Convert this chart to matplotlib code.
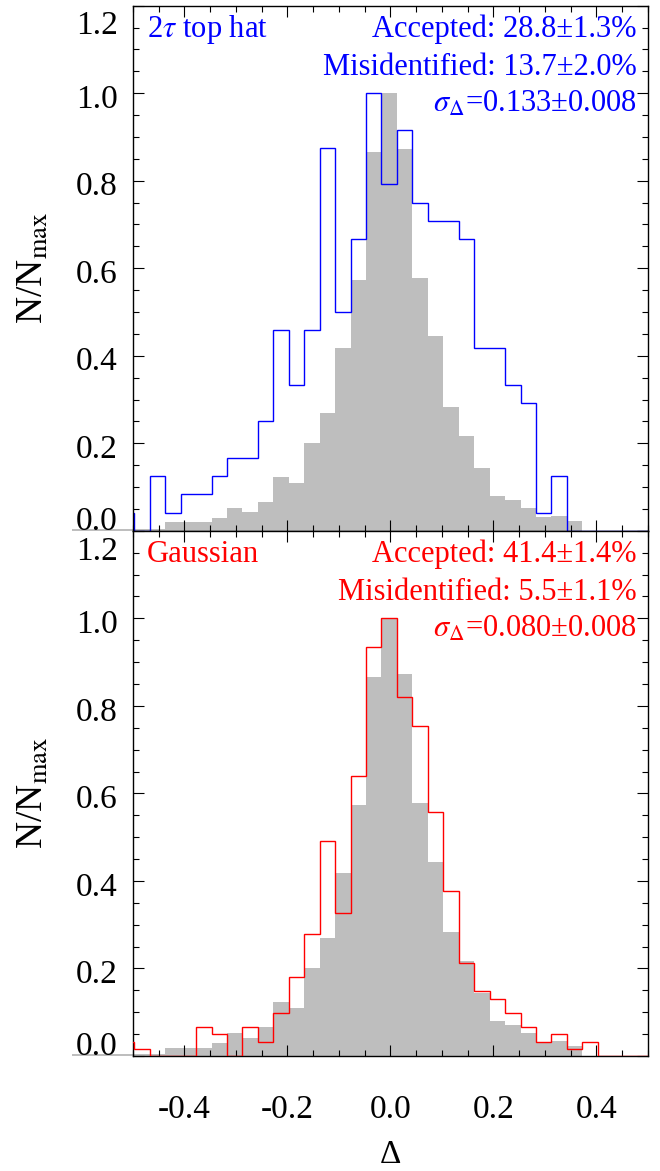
#!/usr/bin/env python3
"""Normalised Delta histograms: 2-tau top hat vs Gaussian weighting, over the reference sample."""

import numpy as np
import matplotlib
matplotlib.use("Agg")
import matplotlib.pyplot as plt
from matplotlib.ticker import MultipleLocator, FormatStrFormatter
from matplotlib.transforms import ScaledTranslation


# binning of Delta (all histograms share the 0.03 step)
BIN_WIDTH = 0.03
FIRST_EDGE = -0.5275
GREY_FIRST_EDGE = -0.6175

# reference sample (grey), already N/N_max
grey_frac = [0.004, 0.004, 0.004,
             0.005, 0.005, 0.005, 0.019, 0.019, 0.019, 0.029, 0.053, 0.042,
             0.066, 0.124, 0.110, 0.200, 0.270, 0.418, 0.574, 0.866, 1.000,
             0.872, 0.578, 0.444, 0.284, 0.217, 0.144, 0.080, 0.070, 0.053,
             0.031, 0.034, 0.022, 0.0, 0.0, 0.0, 0.0, 0.0]

# counts per bin
tophat_counts = [1, 0, 3, 1, 2, 2, 3, 4, 4, 6, 11, 8, 11, 21, 12, 16, 24, 19,
                 22, 18, 17, 17, 16, 10, 10, 8, 7, 1, 3, 0, 0, 0, 0, 0, 0]
gauss_counts = [2, 1, 0, 0, 0, 4, 3, 0, 4, 2, 6, 11, 17, 30, 20, 39, 57, 61,
                50, 46, 34, 23, 13, 9, 8, 6, 4, 2, 3, 1, 2, 0, 0, 0, 0]

panel_names = [r"2$\tau$ top hat", "Gaussian"]
panel_colors = ["blue", "red"]
accepted = ["28.8±1.3%", "41.4±1.4%"]
misidentified = ["13.7±2.0%", "5.5±1.1%"]
sigma_delta = ["0.133±0.008", "0.080±0.008"]

x_ticks = [-0.4, -0.2, 0.0, 0.2, 0.4]
y_ticks = [0.0, 0.2, 0.4, 0.6, 0.8, 1.0, 1.2]
# IDL-like nudging of the y labels (pixels, + is down)
y_label_shift = {0.0: -13, 1.2: 17}


def edges_for(values, start):
    return np.round(start + BIN_WIDTH * np.arange(len(values) + 1), 4)


def main() -> None:
    plt.rcParams.update(
        {
            "font.family": ["Liberation Serif", "DejaVu Serif"],
            "mathtext.fontset": "stix",
            "axes.unicode_minus": False,
            "axes.linewidth": 1.0,
        }
    )

    fig = plt.figure(figsize=(6.6, 11.71), dpi=100)
    left, width, height = 0.2015, 0.7803, 0.4485
    low = 0.0982
    # top panel first, so the lower panel's frame sits over the shared edge
    axes = [
        fig.add_axes([left, low + height, width, height]),
        fig.add_axes([left, low, width, height]),
    ]

    grey_edges = edges_for(grey_frac, GREY_FIRST_EDGE)

    for i, (ax, counts) in enumerate(zip(axes, [tophat_counts, gauss_counts])):
        color = panel_colors[i]
        frac = np.asarray(counts, dtype=float) / max(counts)

        ax.stairs(grey_frac, grey_edges, fill=True, color="#bebebe",
                  linewidth=0, clip_on=False, zorder=1)
        # blue run along the baseline is hidden under the frame, red is not
        ax.stairs(frac, edges_for(counts, FIRST_EDGE), color=color,
                  linewidth=1.0, baseline=0, zorder=3 if i else 2)

        ax.set_xlim(-0.5, 0.5)
        ax.set_ylim(0, 1.2)
        ax.set_xticks(x_ticks)
        ax.set_yticks(y_ticks)
        ax.xaxis.set_minor_locator(MultipleLocator(0.05))
        ax.yaxis.set_minor_locator(MultipleLocator(0.05))
        ax.yaxis.set_major_formatter(FormatStrFormatter("%.1f"))
        ax.xaxis.set_major_formatter(FormatStrFormatter("%.1f"))
        ax.tick_params(which="both", direction="in", top=True, right=True,
                       width=0.8, labelsize=24)
        ax.tick_params(which="major", length=8)
        ax.tick_params(which="minor", length=4.3)
        ax.tick_params(axis="y", pad=11)

        for val, lbl in zip(y_ticks, ax.get_yticklabels()):
            dy = y_label_shift.get(val, 3)
            lbl.set_transform(lbl.get_transform()
                              + ScaledTranslation(0, -dy / 100, fig.dpi_scale_trans))

        ax.set_ylabel(r"N/N$_{\rm max}$", fontsize=27)
        ax.yaxis.set_label_coords(-0.16, 0.5)

        ax.text(0.027, 0.941, panel_names[i], color=color, fontsize=22,
                transform=ax.transAxes, ha="left", va="baseline")
        lines = [
            f"Accepted: {accepted[i]}",
            f"Misidentified: {misidentified[i]}",
            r"$\sigma_\Delta$=" + sigma_delta[i],
        ]
        for text, y in zip(lines, [0.941, 0.868, 0.798]):
            ax.text(0.978, y, text, color=color, fontsize=22,
                    transform=ax.transAxes, ha="right", va="baseline")

    axes[0].tick_params(axis="x", labelbottom=False)
    axes[1].tick_params(axis="x", pad=28)
    axes[1].set_xlabel("Δ", fontsize=24, labelpad=10)

    fig.savefig("out.png", dpi=100)


if __name__ == "__main__":
    main()
